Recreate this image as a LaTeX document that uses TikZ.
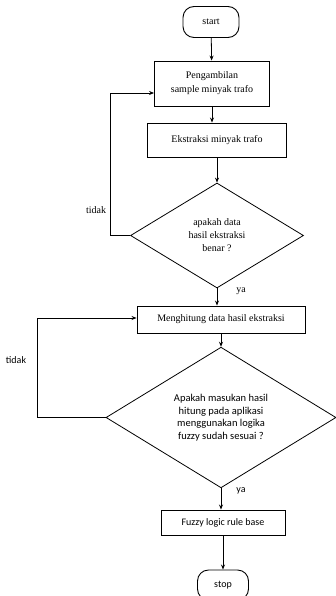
\documentclass[tikz,border=0pt]{standalone}
\usepackage{fontspec}
\setmainfont{Liberation Serif}
\newfontfamily\calibri{Carlito}
\usetikzlibrary{shapes.geometric}
\usetikzlibrary{positioning}
\usetikzlibrary{arrows.meta}

\begin{document}
\begin{tikzpicture}[x=1pt,y=-1pt,
    font=\fontsize{10}{13}\selectfont,
    box/.style={draw, rectangle, line width=0.9pt, align=center, inner sep=2pt},
    decision/.style={draw, diamond, line width=0.8pt, align=center, inner sep=0pt},
    terminal/.style={draw, rectangle, rounded corners=11pt, line width=0.9pt},
    flow/.style={->, >={Stealth[length=5pt,width=4pt]}, line width=0.8pt}]
            \useasboundingbox (0,0) rectangle (335,596);
            % Data extraction path
            \node[terminal, minimum width=56pt, minimum height=31pt] (start) at (211,22) {start};
            \node[box, minimum width=115pt, minimum height=45pt] (ambil) at (212,83.5) {Pengambilan\\[1pt]sample minyak trafo};
            \node[box, minimum width=139pt, minimum height=34pt] (ekstrak) at (217,140) {Ekstraksi minyak trafo};
            \node[decision, minimum width=173pt, minimum height=105pt] (cek1) at (217,235.5) {apakah data\\hasil ekstraksi\\benar ?};
            
            % Fuzzy calculation path
            \node[box, minimum width=168pt, minimum height=27pt] (hitung) at (221,319.5) {Menghitung data hasil ekstraksi};
            \node[decision, font=\calibri\fontsize{10.5}{12.5}\selectfont, minimum width=230pt, minimum height=131pt] (cek2) at (221,417.5) {Apakah masukan hasil\\hitung pada aplikasi\\menggunakan logika\\fuzzy sudah sesuai ?};
            \node[box, font=\calibri\fontsize{10}{12}\selectfont, minimum width=124pt, minimum height=25pt] (fuzzy) at (223,522.5) {Fuzzy logic rule base};
            \node[terminal, font=\calibri\fontsize{10}{12}\selectfont, minimum width=51pt, minimum height=30pt] (stop) at (223,585) {stop};
            
            % Labels
            \node (tidak1) at (96,210) {tidak};
            \node (ya1) at (241,291) {ya};
            \node[font=\calibri\fontsize{10}{12}\selectfont] (tidak2) at (16,360) {tidak};
            \node[font=\calibri\fontsize{10}{12}\selectfont] (ya2) at (241,491) {ya};
            \coordinate (loop1) at (110,93);
            \coordinate (loop2) at (37,318);
            
            \draw[flow] (start) -- (ambil);
            \draw[flow] (ambil) -- (ambil |- ekstrak.north);
            \draw[flow] (ekstrak) -- (cek1);
            \draw[flow] (cek1) -- (cek1 |- hitung.north);
            \draw[flow] (cek1.west) -| (loop1) -- (ambil.west |- loop1);
            \draw[flow] (hitung) -- (hitung |- cek2.north);
            \draw[flow] (cek2.west) -| (loop2) -- (hitung.west |- loop2);
            \draw[flow] (cek2) -- (cek2 |- fuzzy.north);
            \draw[flow] (fuzzy) -- (stop);
        \end{tikzpicture}
\end{document}
